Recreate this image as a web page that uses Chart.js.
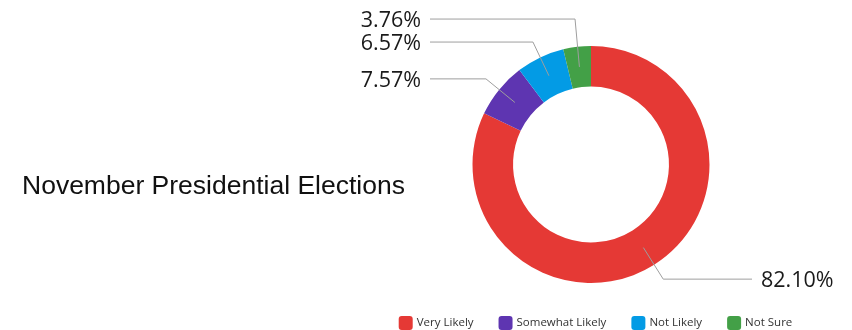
<!DOCTYPE html>
<html>
<head>
<meta charset="utf-8">
<script src="https://cdn.jsdelivr.net/npm/chart.js@4"></script>
<style>
  html, body { margin: 0; padding: 0; background: #fff; }
  #wrap { width: 852px; height: 330px; position: relative; }
</style>
</head>
<body>
<div id="wrap"><canvas id="chart"></canvas></div>
<script>
// Likelihood of voting in the November presidential elections (% of respondents)
const categories = ['Very Likely', 'Somewhat Likely', 'Not Likely', 'Not Sure'];
const shares = [82.10, 7.57, 6.57, 3.76];
const sliceColors = ['#E53935', '#5E35B1', '#039BE5', '#43A047'];
const chartTitle = 'November Presidential Elections';

// Title at the left, vertically in the middle
const sideTitle = {
  id: 'sideTitle',
  afterDraw(chart) {
    const ctx = chart.ctx;
    ctx.save();
    ctx.font = '26.5px "Liberation Sans", Arial, sans-serif';
    ctx.fillStyle = '#111';
    ctx.textAlign = 'left';
    ctx.textBaseline = 'alphabetic';
    ctx.fillText(chartTitle, 22, 194);
    ctx.restore();
  }
};

// Percentage labels with elbow leader lines
const leaderLabels = {
  id: 'leaderLabels',
  afterDraw(chart) {
    const ctx = chart.ctx;
    const meta = chart.getDatasetMeta(0);
    const items = [];
    meta.data.forEach((arc, i) => {
      const p = arc.getProps(['x', 'y', 'startAngle', 'endAngle', 'innerRadius', 'outerRadius'], true);
      const mid = (p.startAngle + p.endAngle) / 2;
      const rAnchor = (p.innerRadius + p.outerRadius) / 2;
      const rElbow = p.outerRadius + 17;
      items.push({
        cx: p.x,
        ax: p.x + Math.cos(mid) * rAnchor,
        ay: p.y + Math.sin(mid) * rAnchor,
        ex: p.x + Math.cos(mid) * rElbow,
        ey: p.y + Math.sin(mid) * rElbow,
        left: Math.cos(mid) < 0,
        text: shares[i].toFixed(2) + '%'
      });
    });
    // keep labels on each side at least one line apart
    const gap = 23;
    [true, false].forEach(side => {
      const group = items.filter(it => it.left === side).sort((a, b) => b.ey - a.ey);
      let prev = Infinity;
      group.forEach(it => {
        it.ey = Math.min(it.ey, prev - gap);
        prev = it.ey;
      });
    });
    ctx.save();
    ctx.strokeStyle = '#9e9e9e';
    ctx.lineWidth = 1;
    ctx.font = '21.5px "Open Sans", sans-serif';
    ctx.fillStyle = '#1a1a1a';
    ctx.textBaseline = 'middle';
    items.forEach(it => {
      const endX = it.left ? it.cx - 161 : it.cx + 161;
      ctx.beginPath();
      ctx.moveTo(it.ax, it.ay);
      ctx.lineTo(it.ex, it.ey);
      ctx.lineTo(endX, it.ey);
      ctx.stroke();
      ctx.textAlign = it.left ? 'right' : 'left';
      ctx.fillText(it.text, it.left ? it.cx - 170 : it.cx + 170, it.ey + 1.5);
    });
    ctx.restore();
  }
};

// Legend row along the bottom
const bottomLegend = {
  id: 'bottomLegend',
  afterDraw(chart) {
    const ctx = chart.ctx;
    const box = 14, textGap = 4, itemGap = 25, centerX = 595.5, top = 316;
    ctx.save();
    ctx.font = '11.5px "Open Sans", sans-serif';
    const widths = categories.map(c => ctx.measureText(c).width);
    const total = widths.reduce((s, w) => s + box + textGap + w, 0) + itemGap * (categories.length - 1);
    let x = centerX - total / 2;
    categories.forEach((c, i) => {
      ctx.fillStyle = sliceColors[i];
      ctx.beginPath();
      ctx.roundRect(x, top, box, box, 3);
      ctx.fill();
      ctx.fillStyle = '#333';
      ctx.textAlign = 'left';
      ctx.textBaseline = 'middle';
      ctx.fillText(c, x + box + textGap, top + box / 2);
      x += box + textGap + widths[i] + itemGap;
    });
    ctx.restore();
  }
};

new Chart(document.getElementById('chart'), {
  type: 'doughnut',
  data: {
    labels: categories,
    datasets: [{
      data: shares,
      backgroundColor: sliceColors,
      borderWidth: 0
    }]
  },
  options: {
    responsive: true,
    maintainAspectRatio: false,
    devicePixelRatio: 1,
    animation: false,
    cutout: '65.8%',
    layout: { padding: { top: 46, bottom: 47, left: 400, right: 70 } },
    plugins: {
      legend: { display: false },
      title: { display: false },
      tooltip: { enabled: false }
    },
    events: []
  },
  plugins: [sideTitle, leaderLabels, bottomLegend]
});
</script>
</body>
</html>
